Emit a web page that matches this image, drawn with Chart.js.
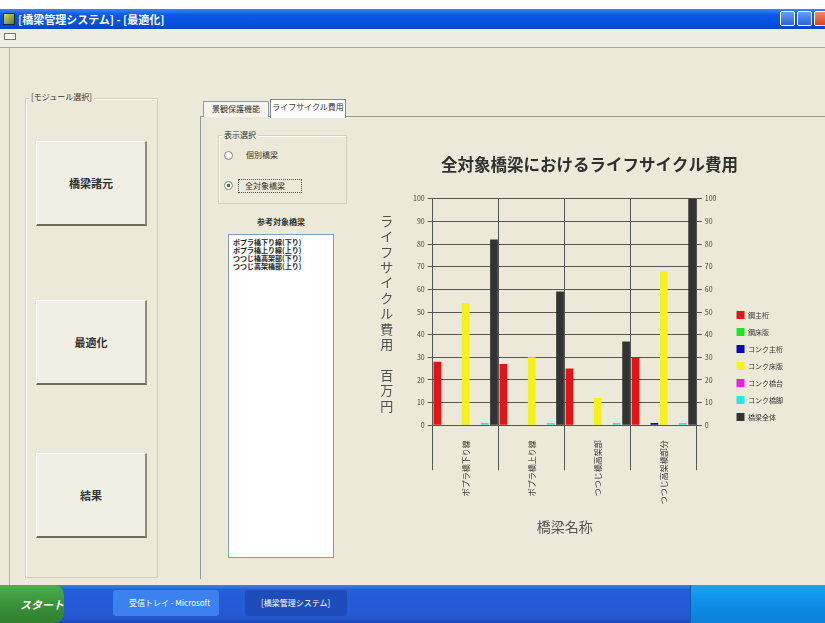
<!DOCTYPE html>
<html lang="ja">
<head>
<meta charset="UTF-8">
<title>橋梁管理システム - ライフサイクル費用</title>
<style>
  body {
    margin: 0;
    width: 825px;
    height: 623px;
    overflow: hidden;
    position: relative;
    background: #fff;
    font-family: "Noto Sans CJK JP", sans-serif;
    color: #222;
  }
  div, span { box-sizing: border-box; }
  .abs { position: absolute; }

  /* barre de titre XP */
  #titlebar {
    left: 0; top: 9px; width: 825px; height: 20px;
    background: linear-gradient(#3b86f7, #0b58e6 30%, #0550de 75%, #0a44c4);
    color: #fff; font-size: 11px; font-weight: bold; line-height: 20px; padding-left: 18px;
  }
  #appicon { left: 3px; top: 13px; width: 12px; height: 12px; background: linear-gradient(135deg, #e8d44a, #3a8a3a); border: 1px solid #224; }
  .winbtn { top: 11px; width: 15px; height: 15px; border: 1px solid #fff; border-radius: 2px; background: linear-gradient(#6b9cf5, #2d63d8); }
  #menubar { left: 0; top: 29px; width: 825px; height: 19px; background: #efede2; border-bottom: 1px solid #aca899; }
  #menuicon { left: 4px; top: 33px; width: 12px; height: 7px; background: #fff; border: 1px solid #777; }

  #client { left: 0; top: 48px; width: 825px; height: 537px; background: #ece9d8; }
  #leftedge { left: 9px; top: 48px; width: 1px; height: 537px; background: #b8b5a6; }

  .group { border: 1px solid #d0d0bf; box-shadow: inset 1px 1px 0 #fff; }
  .grouplabel { font-size: 8px; background: #ece9d8; padding: 0 2px; line-height: 10px; color: #333; }

  .bigbtn {
    left: 36px; width: 111px; height: 85px;
    background: #f1efe4;
    border-top: 1px solid #fff; border-left: 1px solid #fff;
    border-right: 2px solid #8f8c7e; border-bottom: 2px solid #6f6c60;
    font-size: 11px; font-weight: bold; text-align: center; line-height: 82px; color: #333;
  }

  .tab { top: 101px; height: 16px; font-size: 8px; line-height: 14px; text-align: center; color: #333; border: 1px solid #919b9c; border-bottom: none; background: #f4f3ee; }
  #tabpage { left: 200px; top: 116px; width: 625px; height: 463px; border-left: 1px solid #919b9c; border-top: 1px solid #919b9c; background: #ece9d8; }

  .radio { width: 9px; height: 9px; border-radius: 50%; border: 1px solid #8a8a80; background: #fff; }
  .radiotext { font-size: 8px; line-height: 10px; color: #333; }
  #listbox { left: 228px; top: 234px; width: 106px; height: 324px; background: #fff; border: 1px solid #7f9db9; padding: 3px 4px; }
  #listbox div { font-size: 7px; line-height: 8px; color: #222; font-weight: bold; white-space: nowrap; }

  #chartbox { left: 360px; top: 155px; width: 460px; height: 422px; }

  /* barre des tâches */
  #taskbar { left: 0; top: 585px; width: 825px; height: 38px; background: linear-gradient(#3d84f4, #245edb 12%, #2458d2 85%, #1c48b8); }
  #start { left: 0; top: 585px; width: 64px; height: 38px; background: linear-gradient(#4fae4f, #3a923a 50%, #2f7f2f); border-radius: 0 10px 10px 0; color: #fff; font-size: 11px; font-weight: bold; font-style: italic; line-height: 38px; padding-left: 20px; }
  .task { top: 590px; height: 26px; border-radius: 3px; color: #fff; font-size: 8px; line-height: 26px; padding-left: 16px; white-space: nowrap; overflow: hidden; }
  #tray { left: 690px; top: 585px; width: 135px; height: 38px; background: linear-gradient(#17a5f5, #0d8ee6 50%, #0b7fd6); border-left: 1px solid #0a5fb0; }
</style>
<script src="https://cdn.jsdelivr.net/npm/chart.js"></script>
</head>
<body>

  <div id="titlebar" class="abs">[橋梁管理システム] - [最適化]</div>
  <div id="appicon" class="abs"></div>
  <div class="abs winbtn" style="left:780px;"></div>
  <div class="abs winbtn" style="left:797px;"></div>
  <div class="abs winbtn" style="left:814px; background:linear-gradient(#f08a6a,#d8441e);"></div>
  <div id="menubar" class="abs"></div>
  <div id="menuicon" class="abs"></div>

  <div id="client" class="abs"></div>
  <div id="leftedge" class="abs"></div>

  <!-- panneau de gauche -->
  <div class="abs group" style="left:25px; top:98px; width:133px; height:480px;"></div>
  <div class="abs grouplabel" style="left:29px; top:92px;">[モジュール選択]</div>
  <div class="abs bigbtn" style="top:141px;">橋梁諸元</div>
  <div class="abs bigbtn" style="top:300px;">最適化</div>
  <div class="abs bigbtn" style="top:453px;">結果</div>

  <!-- onglets -->
  <div id="tabpage" class="abs"></div>
  <div class="abs tab" style="left:203px; width:66px;">景観保護機能</div>
  <div class="abs tab" style="left:270px; top:99px; height:19px; width:76px; background:#fcfcfe; border-color:#7a8a9a;">ライフサイクル費用</div>

  <div class="abs group" style="left:218px; top:135px; width:129px; height:69px;"></div>
  <div class="abs grouplabel" style="left:222px; top:130px;">表示選択</div>
  <div class="abs radio" style="left:224px; top:151px;"></div>
  <div class="abs radiotext" style="left:246px; top:150px;">個別橋梁</div>
  <div class="abs radio" style="left:224px; top:181px; background:radial-gradient(#2a8a2a 30%, #fff 35%);"></div>
  <div class="abs radiotext" style="left:238px; top:179px; width:64px; height:14px; border:1px dotted #555; padding:1px 0 0 6px;">全対象橋梁</div>

  <div class="abs radiotext" style="left:228px; top:217px; width:106px; text-align:center; font-weight:bold;">参考対象橋梁</div>
  <div id="listbox" class="abs">
    <div>ポプラ橋下り線(下り)</div>
    <div>ポプラ橋上り線(上り)</div>
    <div>つつじ橋高架部(下り)</div>
    <div>つつじ高架橋部(上り)</div>
  </div>

  <div id="chartbox" class="abs"><canvas id="lccChart" width="460" height="422"></canvas></div>

  <!-- barre des tâches -->
  <div id="taskbar" class="abs"></div>
  <div id="start" class="abs">スタート</div>
  <div class="abs task" style="left:113px; width:106px; background:#3c81f0;">受信トレイ - Microsoft</div>
  <div class="abs task" style="left:245px; width:102px; background:#1e4cb8;">[橋梁管理システム]</div>
  <div id="tray" class="abs"></div>

  <script>
    // catégories (noms des ponts)
    const categories = ['ポプラ橋下り線', 'ポプラ橋上り線', 'つつじ橋高架部', 'つつじ高架橋部分'];
    const seriesNames = ['鋼主桁', '鋼床版', 'コンク主桁', 'コンク床版', 'コンク橋台', 'コンク橋脚', '橋梁全体'];

    // valeurs (百万円)
    const koShuketa = [28, 27, 25, 30];
    const koShoban = [0, 0, 0, 0];
    const conShuketa = [0, 0, 0, 1];
    const conShoban = [54, 30, 12, 68];
    const conKyodai = [0, 0, 0, 0];
    const conKyokyaku = [1, 1, 1, 1];
    const zentai = [82, 59, 37, 100];

    const seriesColors = ['#e41414', '#1ee61e', '#0a0ab4', '#f5f01e', '#e61ee6', '#28e6e6', '#333333'];
    const yTitle = 'ライフサイクル費用　百万円';

    const allSeries = [koShuketa, koShoban, conShuketa, conShoban, conKyodai, conKyokyaku, zentai];

    // titre vertical de l'axe Y (caractères empilés)
    const yTitlePlugin = {
      id: 'yTitleStack',
      afterDraw(chart) {
        const ctx = chart.ctx;
        const area = chart.chartArea;
        ctx.save();
        ctx.font = '13px "Noto Sans CJK JP"';
        ctx.fillStyle = '#505050';
        ctx.textAlign = 'center';
        ctx.textBaseline = 'middle';
        [...yTitle].forEach((ch, i) => {
          ctx.fillText(ch, area.left - 46, area.top + 22 + i * 15.4);
        });
        ctx.restore();
      }
    };

    Chart.defaults.font.family = '"Noto Sans CJK JP", sans-serif';

    const ctx = document.getElementById('lccChart').getContext('2d');
    const myChart = new Chart(ctx, {
      type: 'bar',
      data: {
        labels: categories,
        datasets: allSeries.map((vals, i) => ({
          label: seriesNames[i],
          data: vals,
          backgroundColor: seriesColors[i],
          borderWidth: 0,
          barPercentage: 0.82,
          categoryPercentage: 1.0
        }))
      },
      options: {
        responsive: false,
        animation: false,
        layout: { padding: { left: 26, right: 27 } },
        plugins: {
          title: {
            display: true,
            text: '全対象橋梁におけるライフサイクル費用',
            color: '#303030',
            font: { size: 16.5, weight: 'bold' },
            padding: { top: 0, bottom: 24 }
          },
          legend: {
            position: 'right',
            labels: { boxWidth: 8, boxHeight: 8, padding: 9, color: '#333', font: { size: 7 } }
          },
          tooltip: { enabled: false }
        },
        scales: {
          x: {
            grid: { offset: true, color: '#555', tickLength: 45 },
            border: { color: '#555' },
            ticks: { minRotation: 90, maxRotation: 90, autoSkip: false, padding: -30, color: '#333', font: { size: 8 } },
            title: { display: true, text: '橋梁名称', color: '#555', font: { size: 14 }, padding: { top: 44, bottom: 42 } }
          },
          y: {
            min: 0, max: 100,
            ticks: { stepSize: 10, padding: 3, color: '#444', font: { size: 7 } },
            grid: { color: '#555', tickLength: 5 },
            border: { color: '#555' },
            afterFit(scale) { scale.width += 24; }
          },
          y2: {
            position: 'right',
            min: 0, max: 100,
            ticks: { stepSize: 10, padding: 3, color: '#444', font: { size: 7 } },
            grid: { drawOnChartArea: false, color: '#555', tickLength: 5 },
            border: { color: '#555' },
            afterFit(scale) { scale.width += 8; }
          }
        }
      },
      plugins: [yTitlePlugin]
    });
  </script>
</body>
</html>
